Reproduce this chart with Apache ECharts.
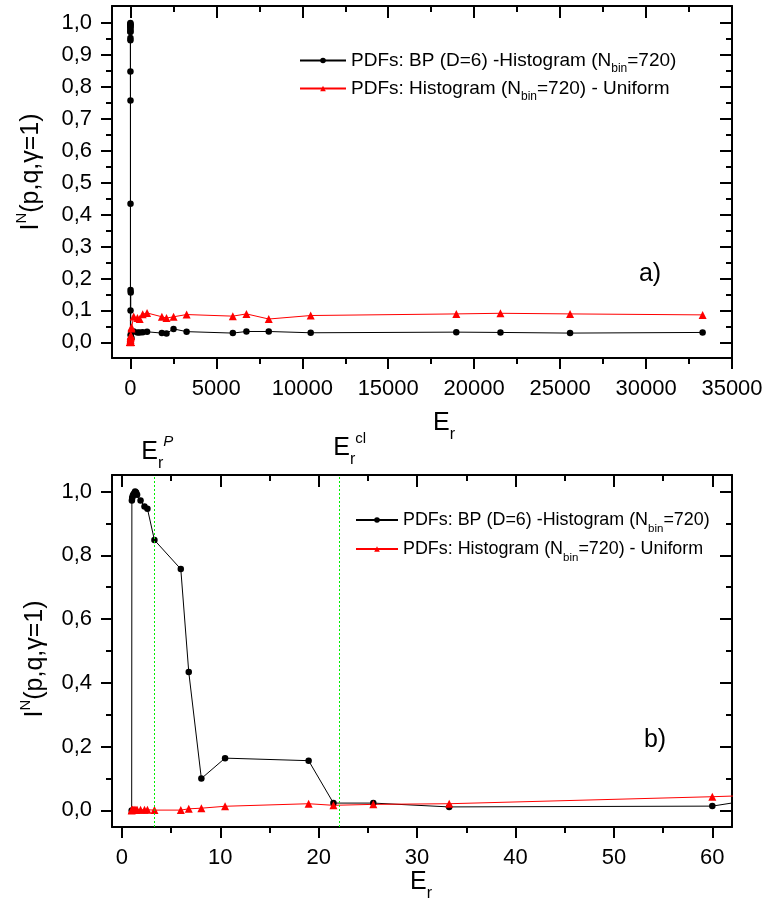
<!DOCTYPE html>
<html>
<head>
<meta charset="utf-8">
<script src="https://cdn.jsdelivr.net/npm/echarts@6/dist/echarts.min.js"></script>
<style>
  html, body { margin: 0; padding: 0; background: #fff; }
  #chart { width: 767px; height: 903px; }
</style>
</head>
<body>
<div id="chart"></div>
<script>
// Reduced energy E_r of each sample
const erValues = [1.0, 1.02, 1.05, 1.1, 1.15, 1.25, 1.35, 1.45, 1.55, 1.9, 2.3, 2.6,
  3.31, 5.99, 6.8, 8.08, 10.49, 18.98, 21.5, 25.55, 33.26, 60, 64,
  190, 410, 540, 715, 970, 1830, 2100, 2510, 3270,
  5960, 6750, 8050, 10490, 18960, 21530, 25580, 33290];
// Normalised divergence I^N: BP (D=6) vs histogram
const bpHistValues = [0.0, 0.972, 0.98, 0.985, 0.99, 0.995, 1.0, 0.997, 0.99, 0.972, 0.953, 0.946,
  0.848, 0.757, 0.434, 0.1, 0.164, 0.156, 0.023, 0.023, 0.011, 0.0135, 0.033,
  0.034, 0.031, 0.031, 0.032, 0.033, 0.029, 0.028, 0.042, 0.0335,
  0.029, 0.034, 0.034, 0.030, 0.032, 0.031, 0.029, 0.031];
// Normalised divergence I^N: histogram vs uniform
const histUniformValues = [0.0, 0.002, 0.001, 0.002, 0.001, 0.002, 0.002, 0.001, 0.002, 0.002, 0.002, 0.002,
  0.001, 0.001, 0.005, 0.007, 0.013, 0.021, 0.016, 0.019, 0.021, 0.043, 0.047,
  0.081, 0.076, 0.073, 0.088, 0.092, 0.080, 0.076, 0.080, 0.087,
  0.082, 0.089, 0.073, 0.084, 0.089, 0.091, 0.089, 0.086];

// Characteristic energies marked in the zoomed panel
const thresholdValues = [3.3, 22.1];
const thresholdSups = ['P', 'cl'];

// Tick positions
const xMajorFull = [0, 5000, 10000, 15000, 20000, 25000, 30000, 35000];
const xMinorFull = [2500, 7500, 12500, 17500, 22500, 27500, 32500];
const yMajorFull = [0, 0.1, 0.2, 0.3, 0.4, 0.5, 0.6, 0.7, 0.8, 0.9, 1.0];
const yMinorFull = [0.05, 0.15, 0.25, 0.35, 0.45, 0.55, 0.65, 0.75, 0.85, 0.95];
const xMajorZoom = [0, 10, 20, 30, 40, 50, 60];
const xMinorZoom = [5, 15, 25, 35, 45, 55];
const yMajorZoom = [0, 0.2, 0.4, 0.6, 0.8, 1.0];
const yMinorZoom = [0.1, 0.3, 0.5, 0.7, 0.9];

const legendTexts = {
  bp: '{t|PDFs: BP (D=6) -Histogram (N}{s|bin}{t|=720)}',
  uni: '{t|PDFs: Histogram (N}{s|bin}{t|=720) - Uniform}'
};

const FONT = '"Liberation Sans", Arial, sans-serif';
const BLACK = '#000000';
const RED = '#ff0000';
const GREEN = '#00ee00';

const titleRich = {
  m: { fontFamily: FONT, fontSize: 25, color: BLACK },
  sup: { fontFamily: FONT, fontSize: 15, color: BLACK, padding: [0, 0, 18, 0] },
  supi: { fontFamily: FONT, fontSize: 15, color: BLACK, fontStyle: 'italic', padding: [0, 0, 21, 0] },
  sub: { fontFamily: FONT, fontSize: 16, color: BLACK, padding: [24, 0, 0, 0] }
};
function legendRich(size, subSize) {
  return {
    t: { fontFamily: FONT, fontSize: size, color: BLACK },
    s: { fontFamily: FONT, fontSize: subSize, color: BLACK, padding: [17, 0, 0, 0] }
  };
}

const commaFmt = v => v.toFixed(1).replace('.', ',');
const tickStyle = { color: BLACK, width: 2 };
const lineStyle2 = { color: BLACK, width: 2 };

function hidden(base) {
  return Object.assign({
    type: 'value', splitLine: { show: false }, axisLabel: { show: false },
    axisTick: { show: false }, axisLine: { show: false, onZero: false }, silent: true
  }, base);
}

// Four x axes per panel: labelled bottom, bottom minor, top mirror, top minor
function buildX(grid, min, max, major, minor) {
  const b = { gridIndex: grid, min: min, max: max };
  return [
    hidden(Object.assign({}, b, {
      position: 'bottom',
      axisLine: { show: true, onZero: false, lineStyle: lineStyle2 },
      axisTick: { show: true, inside: false, length: 11, customValues: major, lineStyle: tickStyle },
      axisLabel: { show: true, customValues: major, formatter: v => String(v), fontFamily: FONT, fontSize: 22, color: BLACK, margin: 20 }
    })),
    hidden(Object.assign({}, b, {
      position: 'bottom',
      axisTick: { show: true, inside: false, length: 6, customValues: minor, lineStyle: tickStyle }
    })),
    hidden(Object.assign({}, b, {
      position: 'top',
      axisLine: { show: true, onZero: false, lineStyle: lineStyle2 },
      axisTick: { show: true, inside: true, length: 12, customValues: major, lineStyle: tickStyle }
    })),
    hidden(Object.assign({}, b, {
      position: 'top',
      axisTick: { show: true, inside: true, length: 6, customValues: minor, lineStyle: tickStyle }
    }))
  ];
}

function buildY(grid, min, max, major, minor) {
  const b = { gridIndex: grid, min: min, max: max };
  return [
    hidden(Object.assign({}, b, {
      position: 'left',
      axisLine: { show: true, onZero: false, lineStyle: lineStyle2 },
      axisTick: { show: true, inside: false, length: 11, customValues: major, lineStyle: tickStyle },
      axisLabel: { show: true, customValues: major, formatter: commaFmt, fontFamily: FONT, fontSize: 22, color: BLACK, margin: 20 }
    })),
    hidden(Object.assign({}, b, {
      position: 'left',
      axisTick: { show: true, inside: false, length: 6, customValues: minor, lineStyle: tickStyle }
    })),
    hidden(Object.assign({}, b, {
      position: 'right',
      axisLine: { show: true, onZero: false, lineStyle: lineStyle2 },
      axisTick: { show: true, inside: true, length: 12, customValues: major, lineStyle: tickStyle }
    })),
    hidden(Object.assign({}, b, {
      position: 'right',
      axisTick: { show: true, inside: true, length: 6, customValues: minor, lineStyle: tickStyle }
    }))
  ];
}

const yName = '{m|I}{sup|N}{m|(p,q,γ=1)}';
const xName = '{m|E}{sub|r}';

const bpData = erValues.map((x, i) => [x, bpHistValues[i]]);
const uniData = erValues.map((x, i) => [x, histUniformValues[i]]);

function bpSeries(ax, extra) {
  return Object.assign({
    name: 'bp', type: 'line', xAxisIndex: ax, yAxisIndex: ax, data: bpData,
    symbol: 'circle', symbolSize: 6.5, showSymbol: true,
    lineStyle: { color: BLACK, width: 1 }, itemStyle: { color: BLACK },
    clip: true, animation: false, silent: true
  }, extra || {});
}
function uniSeries(ax) {
  return {
    name: 'uni', type: 'line', xAxisIndex: ax, yAxisIndex: ax, data: uniData,
    symbol: 'triangle', symbolSize: 8, showSymbol: true,
    lineStyle: { color: RED, width: 1 }, itemStyle: { color: RED },
    clip: true, animation: false, silent: true
  };
}

function legendRow(name, left, top, w, size, subSize) {
  return {
    data: [name], left: left, top: top, padding: 0, itemWidth: w, itemHeight: 7,
    selectedMode: false, formatter: n => legendTexts[n],
    textStyle: { rich: legendRich(size, subSize), fontFamily: FONT, fontSize: size, color: BLACK }
  };
}

const dotted = { type: [2, 2], color: GREEN, width: 1, opacity: 1 };

const chart = echarts.init(document.getElementById('chart'));
const option = {
  animation: false,
  backgroundColor: '#ffffff',
  grid: [
    { left: 112, top: 6, width: 620, height: 352 },
    { left: 112, top: 475, width: 620, height: 352 }
  ],
  xAxis: [].concat(
    buildX(0, -1070, 35000, xMajorFull, xMinorFull),
    buildX(1, -1.0, 62.0, xMajorZoom, xMinorZoom)
  ),
  yAxis: [].concat(
    buildY(0, -0.049, 1.053, yMajorFull, yMinorFull),
    buildY(1, -0.052, 1.052, yMajorZoom, yMinorZoom)
  ),
  legend: [
    legendRow('bp', 299, 51, 46, 19, 12),
    legendRow('uni', 299, 79, 46, 19, 12),
    legendRow('bp', 355, 511, 42, 17.9, 11.5),
    legendRow('uni', 355, 540, 42, 17.9, 11.5)
  ],
  series: [
    bpSeries(0),
    uniSeries(0),
    bpSeries(4, {
      markLine: {
        silent: true, animation: false, symbol: ['none', 'none'],
        label: { show: false }, emphasis: { disabled: true },
        lineStyle: dotted,
        data: thresholdValues.map(v => ({ xAxis: v, lineStyle: dotted }))
      }
    }),
    uniSeries(4)
  ]
};
chart.setOption(option);

// Axis titles, panel tags and labels of the characteristic energies
const graphics = [
  { type: 'text', x: 31, y: 172, rotation: Math.PI / 2,
    style: { text: yName, rich: titleRich, align: 'center', verticalAlign: 'middle' } },
  { type: 'text', x: 35, y: 659, rotation: Math.PI / 2,
    style: { text: yName, rich: titleRich, align: 'center', verticalAlign: 'middle' } },
  { type: 'text', x: 433, y: 423,
    style: { text: xName, rich: titleRich, align: 'left', verticalAlign: 'middle' } },
  { type: 'text', x: 410, y: 882,
    style: { text: xName, rich: titleRich, align: 'left', verticalAlign: 'middle' } },
  { type: 'text', x: 650, y: 274, style: { text: 'a)', font: '25px ' + FONT, fill: BLACK, align: 'center', verticalAlign: 'middle' } },
  { type: 'text', x: 655, y: 740, style: { text: 'b)', font: '25px ' + FONT, fill: BLACK, align: 'center', verticalAlign: 'middle' } }
];
const labelShift = [-13, -6];
thresholdValues.forEach((v, i) => {
  const px = chart.convertToPixel({ xAxisIndex: 4 }, v);
  const tag = thresholdSups[i] === 'P' ? 'supi' : 'sup';
  graphics.push({
    type: 'text', x: px + labelShift[i], y: i === 0 ? 432 : 428,
    style: { text: '{m|E}{sub|r}{' + tag + '|' + thresholdSups[i] + '}', rich: titleRich, fill: BLACK }
  });
});
chart.setOption({ graphic: graphics });
</script>
</body>
</html>
